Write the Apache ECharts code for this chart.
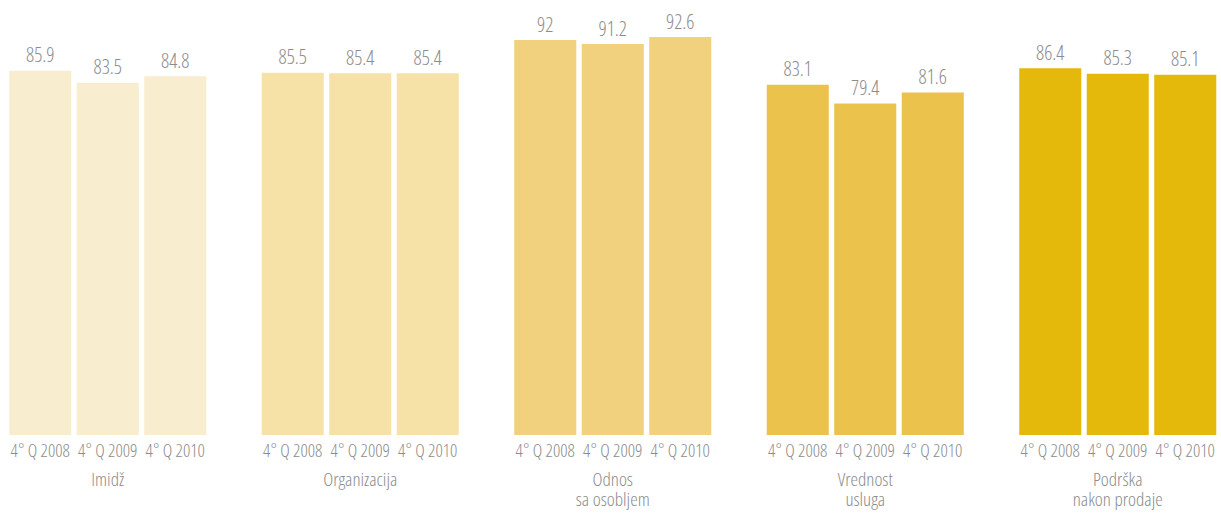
<!DOCTYPE html>
<html>
<head>
<meta charset="utf-8">
<title>Zadovoljstvo klijenata</title>
<script src="https://cdn.jsdelivr.net/npm/echarts@6/dist/echarts.min.js"></script>
<style>
  html, body { margin: 0; padding: 0; background: #ffffff; }
  #chart { width: 1221px; height: 513px; }
  /* narrow face of the variable font for all chart texts */
  #chart text { font-stretch: 75% !important; }
</style>
</head>
<body>
<div id="chart"></div>
<script>
// Survey dimensions (one group of bars each)
const groups = ['Imidž', 'Organizacija', 'Odnos\nsa osobljem', 'Vrednost\nusluga', 'Podrška\nnakon prodaje'];
// Periods shown as bars inside every group
const periods = ['4° Q 2008', '4° Q 2009', '4° Q 2010'];
// Scores per period, in group order
const q2008 = [85.9, 85.5, 92.0, 83.1, 86.4];
const q2009 = [83.5, 85.4, 91.2, 79.4, 85.3];
const q2010 = [84.8, 85.4, 92.6, 81.6, 85.1];
// Fill colour of each group
const groupColors = ['#F9EDD0', '#F6E2A7', '#F1D17D', '#EBC24C', '#E5B90C'];

const FONT = '"Open Sans", sans-serif';
const TEXT = '#8c8c8c';

const grids = [], xAxes = [], yAxes = [], series = [];
groups.forEach((name, i) => {
  grids.push({ left: 6.5 + i * 252.5, width: 202.5, top: 25, bottom: 78, outerBoundsMode: 'none' });
  xAxes.push({
    type: 'category', gridIndex: i, data: periods,
    axisLine: { show: false }, axisTick: { show: false },
    axisLabel: { color: TEXT, fontFamily: FONT, fontWeight: 300, fontSize: 18, margin: 6, interval: 0 },
    name: name, nameLocation: 'middle', nameGap: 34,
    nameTextStyle: { color: TEXT, fontFamily: FONT, fontWeight: 300, fontSize: 19, lineHeight: 20, verticalAlign: 'top' }
  });
  yAxes.push({ type: 'value', gridIndex: i, min: 13.5, max: 95, show: false, splitLine: { show: false } });
  series.push({
    type: 'bar', xAxisIndex: i, yAxisIndex: i,
    data: [q2008[i], q2009[i], q2010[i]],
    barCategoryGap: '8.1%',
    itemStyle: { color: groupColors[i] },
    label: { show: true, position: 'top', distance: 6, color: TEXT, fontFamily: FONT, fontWeight: 300, fontSize: 20 },
    silent: true
  });
});

const chart = echarts.init(document.getElementById('chart'), null, { renderer: 'svg' });
chart.setOption({
  animation: false,
  backgroundColor: '#ffffff',
  grid: grids, xAxis: xAxes, yAxis: yAxes, series: series
});
</script>
</body>
</html>
